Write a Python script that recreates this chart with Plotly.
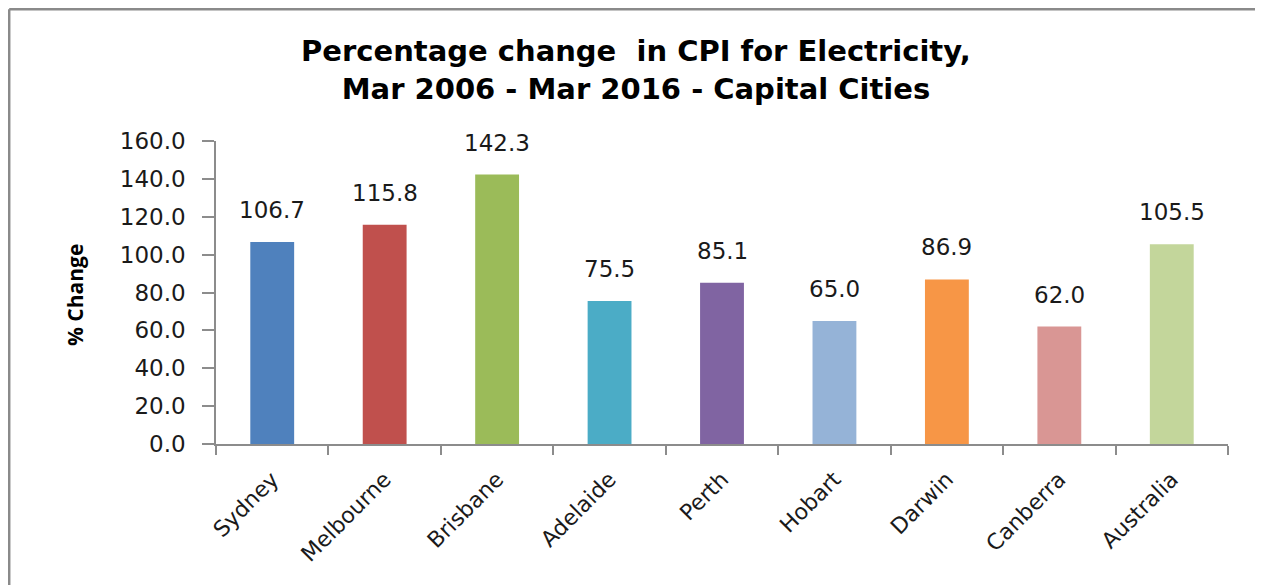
import plotly.graph_objects as go

categories = ["Sydney", "Melbourne", "Brisbane", "Adelaide", "Perth", "Hobart", "Darwin", "Canberra", "Australia"]
values = [106.7, 115.8, 142.3, 75.5, 85.1, 65.0, 86.9, 62.0, 105.5]
colors = ["#4F81BD", "#C0504D", "#9BBB59", "#4BACC6", "#8064A2", "#95B3D7", "#F79646", "#D99694", "#C3D69B"]
y_ticks = [0, 20, 40, 60, 80, 100, 120, 140, 160]

# the page body has an 8px margin, so the figure is offset by it
OFF = 8
W, H = 1263 - OFF, 585 - OFF
L, T = 216 - OFF, 141 - OFF
R = W - (1228 - OFF)
B = H - (444 - OFF)
PW, PH = W - L - R, H - T - B

fig = go.Figure(go.Bar(
    x=categories, y=values,
    marker=dict(color=colors, line=dict(width=0)),
    width=0.39, hoverinfo="x+y",
))

for c, v in zip(categories, values):
    fig.add_annotation(
        x=c, y=v, xref="x", yref="y", text=f"{v:.1f}",
        showarrow=False, yanchor="bottom", yshift=17,
        font=dict(family="DejaVu Sans", size=23, color="#1a1a1a"),
    )

fig.update_layout(
    width=W, height=H,
    margin=dict(l=L, r=R, t=T, b=B, autoexpand=False),
    paper_bgcolor="white", plot_bgcolor="white",
    showlegend=False,
    title=dict(
        text="Percentage change  in CPI for Electricity,<br>Mar 2006 - Mar 2016 - Capital Cities",
        x=(636 - OFF) / W, xref="container", xanchor="center",
        y=1 - (61 - OFF) / H, yref="container", yanchor="middle",
        font=dict(family="DejaVu Sans", size=29, color="black", weight="bold"),
    ),
    xaxis=dict(
        showline=True, linecolor="#8c8c8c", linewidth=1.5,
        ticks="outside", tickson="boundaries", ticklen=9, tickcolor="#8c8c8c", tickwidth=1.5,
        tickangle=-45, automargin=False, ticklabelstandoff=12,
        tickfont=dict(family="DejaVu Sans", size=22, color="#1a1a1a"),
        showgrid=False,
    ),
    yaxis=dict(
        range=[0, 160], tickvals=y_ticks, tickformat=".1f",
        showline=True, linecolor="#8c8c8c", linewidth=1.5,
        ticks="outside", ticklen=12, tickcolor="#8c8c8c", tickwidth=1.5,
        ticklabelstandoff=12,
        tickfont=dict(family="DejaVu Sans", size=23, color="#1a1a1a"),
        showgrid=False, zeroline=False, automargin=False,
    ),
)

# y-axis title
fig.add_annotation(
    x=(75 - OFF - L) / PW, y=(H - B - (295 - OFF)) / PH, xref="paper", yref="paper",
    text="<b>% Change</b>", textangle=-90, showarrow=False,
    xanchor="center", yanchor="middle",
    font=dict(family="Open Sans", size=21, color="black"),
)

# chart border: only its left and top edges fall inside the picture
bx = (1.2 - L) / PW
by = ((H - 1.2) - B) / PH
fig.add_shape(type="line", xref="paper", yref="paper", x0=bx, x1=bx, y0=-B / PH, y1=by,
              line=dict(color="#8a8a8a", width=2.5), layer="below")
fig.add_shape(type="line", xref="paper", yref="paper", x0=bx, x1=(W - L) / PW, y0=by, y1=by,
              line=dict(color="#8a8a8a", width=2.5), layer="below")

fig.write_html("out.html")
